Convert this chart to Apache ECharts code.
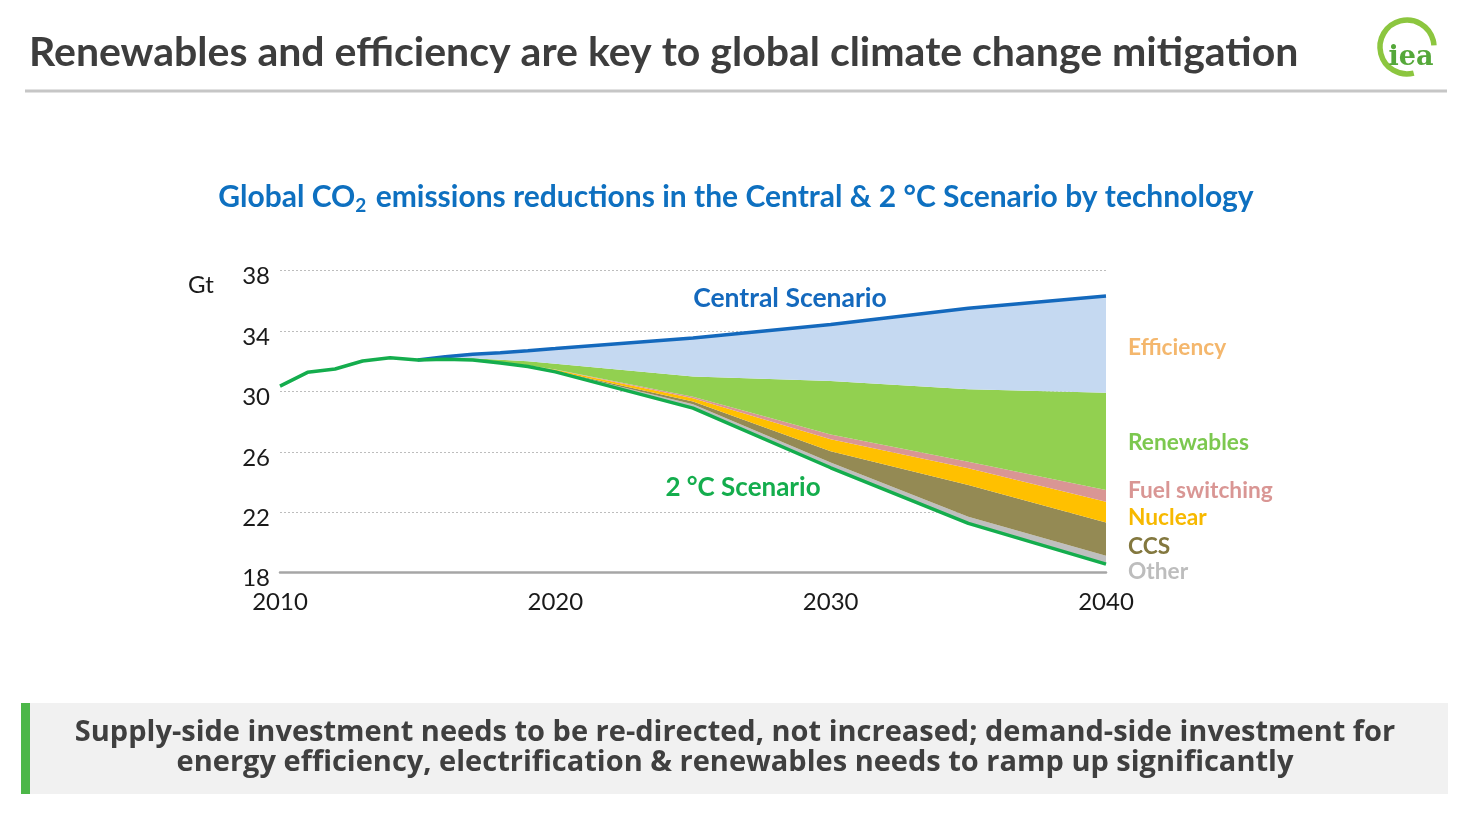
<!DOCTYPE html>
<html>
<head>
<meta charset="utf-8">
<script src="https://cdn.jsdelivr.net/npm/echarts@6/dist/echarts.min.js"></script>
<style>
html,body{margin:0;padding:0;background:#fff;}
#chart{width:1471px;height:829px;}
</style>
</head>
<body>
<div id="chart"></div>
<script>
// ---- data (Gt CO2) ----
const years = [2010, 2011, 2012, 2013, 2014, 2015, 2016, 2017, 2018, 2019, 2020, 2025, 2030, 2035, 2040];
// 2 °C Scenario path (history up to 2015)
const scenario2C = [30.36, 31.27, 31.49, 32.02, 32.24, 32.09, 32.13, 32.09, 31.89, 31.65, 31.3, 28.9, 24.95, 21.27, 18.57];
// reductions by technology (wedges stacked on top of the 2 °C path)
const other      = [0, 0, 0, 0, 0, 0, 0, 0.01, 0.02, 0.03, 0.05, 0.25, 0.34, 0.44, 0.55];
const ccs        = [0, 0, 0, 0, 0, 0, 0, 0, 0.01, 0.02, 0.03, 0.18, 0.76, 2.1, 2.2];
const nuclear    = [0, 0, 0, 0, 0, 0, 0, 0.01, 0.02, 0.03, 0.06, 0.22, 0.78, 1.1, 1.38];
const fuelSwitch = [0, 0, 0, 0, 0, 0, 0, 0, 0, 0.01, 0.02, 0.1, 0.33, 0.44, 0.78];
const renewables = [0, 0, 0, 0, 0, 0, 0.05, 0.09, 0.17, 0.26, 0.38, 1.35, 3.53, 4.8, 6.44];
const efficiency = [null, null, null, null, null, 0, 0.12, 0.26, 0.46, 0.7, 1.0, 2.55, 3.75, 5.36, 6.4];
const xTicks = [2010, 2020, 2030, 2040];
const yTicks = [18, 22, 26, 30, 34, 38];

const C = {
  central: '#1469bd', green: '#14ad4d',
  eff: '#c5d9f1', ren: '#92d050', fuel: '#d99694', nuc: '#ffc000', ccs: '#948a54', other: '#bfbfbf'
};

function pairs(arr) { return arr.map((v, i) => [v == null ? '-' : v, years[i]]); }

function wedge(name, arr, color, extra) {
  return Object.assign({
    name: name, type: 'line', stack: 'total', data: pairs(arr),
    encode: { x: 1, y: 0 }, symbol: 'none', showSymbol: false,
    lineStyle: { width: 0 }, areaStyle: { color: color, opacity: 1 },
    emphasis: { disabled: true }, silent: true
  }, extra || {});
}

const chart = echarts.init(document.getElementById('chart'), null, { renderer: 'canvas' });
const FONT = 'Lato';
const option = {
  animation: false,
  backgroundColor: '#ffffff',
  textStyle: { fontFamily: FONT },
  grid: { left: 280, right: 365, top: 270.7, bottom: 256.3, containLabel: false },
  xAxis: {
    type: 'value', min: xTicks[0], max: xTicks[xTicks.length - 1], interval: 10,
    axisLine: { show: true, lineStyle: { color: '#a6a6a6', width: 2.5 } },
    axisTick: { show: false }, splitLine: { show: false },
    axisLabel: { fontSize: 24, color: '#1a1a1a', margin: 18, fontFamily: FONT, formatter: v => String(v) }
  },
  yAxis: {
    type: 'value', min: yTicks[0], max: yTicks[yTicks.length - 1], interval: 4,
    axisLine: { show: false }, axisTick: { show: false },
    splitLine: { show: true, lineStyle: { color: '#bdbdbd', width: 1, type: [2, 2] } },
    axisLabel: { fontSize: 24, color: '#1a1a1a', margin: 10, fontFamily: FONT, verticalAlign: 'top', lineHeight: 12 }
  },
  series: [
    {
      name: '2 °C Scenario', type: 'line', stack: 'total', data: pairs(scenario2C),
      encode: { x: 1, y: 0 }, symbol: 'none', showSymbol: false, z: 5,
      lineStyle: { color: C.green, width: 3.5 }, emphasis: { disabled: true }, silent: true
    },
    wedge('Other', other, C.other),
    wedge('CCS', ccs, C.ccs),
    wedge('Nuclear', nuclear, C.nuc),
    wedge('Fuel switching', fuelSwitch, C.fuel),
    wedge('Renewables', renewables, C.ren),
    wedge('Efficiency', efficiency, C.eff, { z: 4, lineStyle: { color: C.central, width: 3.5 } })
  ],
  graphic: [
    { type: 'text', x: 29, y: 53, style: { text: 'Renewables and efficiency are key to global climate change mitigation', font: 'bold 41px Lato', fill: '#3d3d3d', textVerticalAlign: 'middle' } },
    { type: 'rect', shape: { x: 25, y: 89.5, width: 1422, height: 3 }, style: { fill: '#c6c6c6' } },
    { type: 'arc', shape: { cx: 1407, cy: 47, r: 27, startAngle: Math.PI * 0.42, endAngle: Math.PI * 1.98, clockwise: true }, style: { stroke: '#8cc63f', lineWidth: 5.5, fill: null } },
    { type: 'text', x: 1411, y: 58, style: { text: 'iea', font: 'bold 27px "DejaVu Serif"', fill: '#55a83a', textAlign: 'center', textVerticalAlign: 'middle' } },
    { type: 'text', x: 736, y: 197, style: {
        text: '{m|Global CO}{s|2}{m| emissions reductions in the Central & 2 °C Scenario by technology}',
        textAlign: 'center', textVerticalAlign: 'middle',
        rich: {
          m: { font: 'bold 30px Lato', fill: '#0e70c0', lineHeight: 36, verticalAlign: 'middle' },
          s: { font: 'bold 19px Lato', fill: '#0e70c0', verticalAlign: 'bottom', padding: [0, 2, 0, 0] }
        } } },
    { type: 'text', x: 188, y: 285, style: { text: 'Gt', font: '24px Lato', fill: '#1a1a1a', textVerticalAlign: 'middle' } },
    { type: 'text', x: 790, y: 298, style: { text: 'Central Scenario', font: 'bold 26.5px Lato', fill: C.central, textAlign: 'center', textVerticalAlign: 'middle' } },
    { type: 'text', x: 743, y: 488, style: { text: '2 °C Scenario', font: 'bold 26px Lato', fill: C.green, textAlign: 'center', textVerticalAlign: 'middle' } },
    { type: 'text', x: 1128, y: 348, style: { text: 'Efficiency', font: 'bold 22.7px Lato', fill: '#f4b76d', textVerticalAlign: 'middle' } },
    { type: 'text', x: 1128, y: 443, style: { text: 'Renewables', font: 'bold 22.7px Lato', fill: '#7cc84f', textVerticalAlign: 'middle' } },
    { type: 'text', x: 1128, y: 491, style: { text: 'Fuel switching', font: 'bold 22.7px Lato', fill: '#d99694', textVerticalAlign: 'middle' } },
    { type: 'text', x: 1128, y: 518, style: { text: 'Nuclear', font: 'bold 22.7px Lato', fill: '#f7b900', textVerticalAlign: 'middle' } },
    { type: 'text', x: 1128, y: 547, style: { text: 'CCS', font: 'bold 22.7px Lato', fill: '#83783f', textVerticalAlign: 'middle' } },
    { type: 'text', x: 1128, y: 572, style: { text: 'Other', font: 'bold 22.7px Lato', fill: '#bdbdbd', textVerticalAlign: 'middle' } },
    { type: 'rect', shape: { x: 21, y: 703, width: 1427, height: 91 }, style: { fill: '#f1f1f1' } },
    { type: 'rect', shape: { x: 21, y: 703, width: 9, height: 91 }, style: { fill: '#4cb748' } },
    { type: 'text', x: 735, y: 733, style: { text: 'Supply-side investment needs to be re-directed, not increased; demand-side investment for', font: 'bold 29px "Open Sans"', fill: '#3f3f3f', textAlign: 'center', textVerticalAlign: 'middle' } },
    { type: 'text', x: 735, y: 763, style: { text: 'energy efficiency, electrification & renewables needs to ramp up significantly', font: 'bold 29px "Open Sans"', fill: '#3f3f3f', textAlign: 'center', textVerticalAlign: 'middle' } }
  ]
};
chart.setOption(option);
</script>
</body>
</html>
